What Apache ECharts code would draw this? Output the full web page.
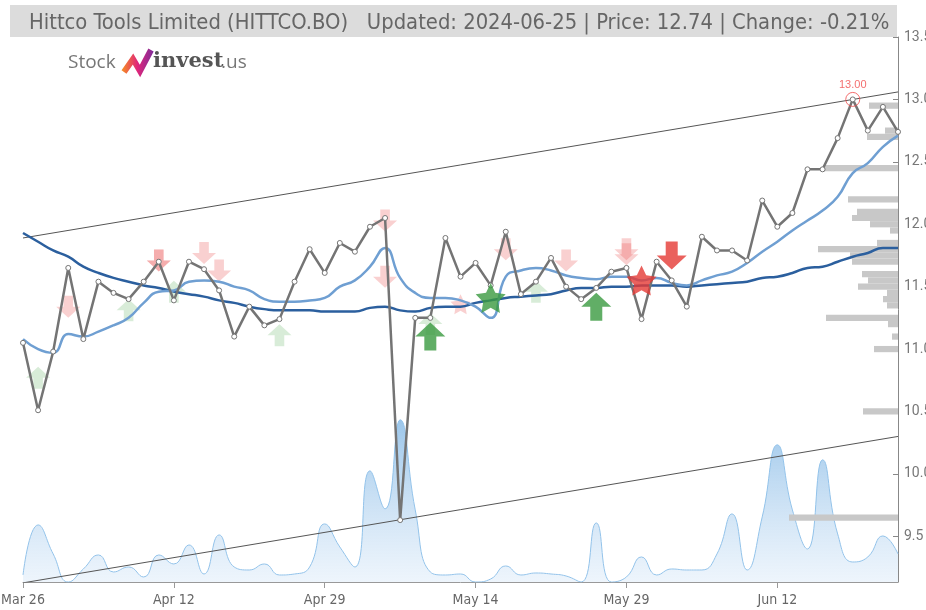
<!DOCTYPE html>
<html>
<head>
<meta charset="utf-8">
<script src="https://cdn.jsdelivr.net/npm/echarts@6/dist/echarts.min.js"></script>
<style>
  html, body { margin: 0; padding: 0; background: #fff; }
  #chart { width: 926px; height: 610px; }
</style>
</head>
<body>
<div id="chart"></div>
<script>
// trading days
const dates = ['Mar 26','Mar 27','Mar 28','Apr 1','Apr 2','Apr 3','Apr 4','Apr 5','Apr 8','Apr 10',
  'Apr 12','Apr 15','Apr 16','Apr 18','Apr 19','Apr 22','Apr 23','Apr 24','Apr 25','Apr 26',
  'Apr 29','Apr 30','May 2','May 3','May 6','May 7','May 8','May 9','May 10','May 13',
  'May 14','May 15','May 16','May 17','May 21','May 22','May 23','May 24','May 27','May 28',
  'May 29','May 30','May 31','Jun 3','Jun 4','Jun 5','Jun 6','Jun 7','Jun 10','Jun 11',
  'Jun 12','Jun 13','Jun 14','Jun 18','Jun 19','Jun 20','Jun 21','Jun 24','Jun 25'];

// close prices
const closes = [11.05, 10.51, 10.98, 11.65, 11.08, 11.54, 11.45, 11.40, 11.54, 11.70,
  11.39, 11.70, 11.64, 11.47, 11.10, 11.34, 11.19, 11.24, 11.54, 11.80,
  11.61, 11.85, 11.78, 11.98, 12.05, 9.63, 11.25, 11.25, 11.89, 11.58,
  11.69, 11.51, 11.94, 11.44, 11.54, 11.73, 11.50, 11.40, 11.49, 11.62,
  11.65, 11.24, 11.70, 11.55, 11.34, 11.90, 11.79, 11.79, 11.71, 12.19,
  11.98, 12.09, 12.44, 12.44, 12.69, 13.00, 12.75, 12.94, 12.74];

// short moving average (light blue)
const smaShort = [11.08, 11.00, 10.97, 11.12, 11.10, 11.14, 11.19, 11.25, 11.37, 11.46,
  11.47, 11.54, 11.55, 11.54, 11.50, 11.47, 11.40, 11.38, 11.38, 11.39,
  11.41, 11.50, 11.55, 11.66, 11.81, 11.57, 11.45, 11.41, 11.41, 11.39,
  11.34, 11.25, 11.58, 11.63, 11.65, 11.63, 11.59, 11.57, 11.56, 11.58,
  11.58, 11.55, 11.57, 11.53, 11.51, 11.55, 11.59, 11.62, 11.69, 11.78,
  11.86, 11.95, 12.03, 12.11, 12.22, 12.41, 12.49, 12.62, 12.71];

// long moving average (dark blue)
const smaLong = [11.93, 11.86, 11.79, 11.74, 11.66, 11.61, 11.57, 11.54, 11.51, 11.49,
  11.46, 11.44, 11.42, 11.39, 11.37, 11.34, 11.32, 11.31, 11.31, 11.31,
  11.30, 11.30, 11.30, 11.33, 11.34, 11.31, 11.30, 11.33, 11.34, 11.34,
  11.37, 11.39, 11.41, 11.42, 11.43, 11.44, 11.47, 11.49, 11.49, 11.50,
  11.50, 11.51, 11.51, 11.51, 11.50, 11.51, 11.52, 11.53, 11.54, 11.57,
  11.58, 11.61, 11.65, 11.66, 11.70, 11.74, 11.77, 11.81, 11.81];

// volume (hundreds of shares)
const volumes = [7, 57, 28, 0, 13, 27, 10, 15, 5, 27,
  18, 37, 8, 47, 15, 12, 18, 7, 8, 15,
  58, 35, 15, 111, 73, 162, 72, 10, 7, 8,
  0, 3, 16, 7, 9, 8, 6, 0, 59, 0,
  5, 25, 7, 13, 12, 12, 28, 68, 12, 65,
  137, 72, 33, 122, 48, 20, 25, 46, 28];

// trend channel: value at first and last day
const trendUpper = [11.89, 13.06];
const trendLower = [9.127, 10.30];

// volume by price
const profilePrices = [12.95, 12.75, 12.70, 12.45, 12.20, 12.10, 12.05, 12.00, 11.95, 11.85,
  11.80, 11.75, 11.70, 11.60, 11.55, 11.50, 11.45, 11.40, 11.35, 11.25,
  11.20, 11.10, 11.00, 10.50, 9.65];
const profileVols = [29, 13, 31, 75, 50, 41, 46, 28, 8, 21,
  80, 48, 46, 36, 30, 40, 11, 15, 11, 72,
  10, 6, 24, 35, 109];
const profileBin = 0.05;

// signals [day index, price]
const weakBuy = [[1, 10.77], [7, 11.31], [10, 11.46], [17, 11.11], [27, 11.20], [34, 11.46]];
const strongBuy = [[27, 11.10], [38, 11.34]];
const weakSell = [[3, 11.34], [9, 11.71], [9, 11.71], [12, 11.77], [13, 11.63], [24, 12.03],
  [24, 11.58], [32, 11.80], [36, 11.71], [40, 11.80], [40, 11.76]];
const strongSell = [[43, 11.75]];
const buyStars = [[31, 11.41]];
const sellStars = [[41, 11.55]];
const weakSellStars = [[29, 11.36]];

const yTicks = [9.5, 10.0, 10.5, 11.0, 11.5, 12.0, 12.5, 13.0, 13.5];

const narrow = '"Liberation Sans Narrow", "DejaVu Sans Condensed", sans-serif';
const upArrow = 'path://M15,0 L30,14 L21,14 L21,28 L9,28 L9,14 L0,14 Z';
const downArrow = 'path://M9,0 L21,0 L21,14 L30,14 L15,28 L0,14 L9,14 Z';
const star = 'path://M50,0 L64.7,29.8 L97.6,34.5 L73.8,57.7 L79.4,90.5 L50,75 L20.6,90.5 L26.2,57.7 L2.4,34.5 L35.3,29.8 Z';

const last = closes.length - 1;
let maxIdx = 0;
closes.forEach((v, i) => { if (v > closes[maxIdx]) maxIdx = i; });

const chart = echarts.init(document.getElementById('chart'));

const option = {
  animation: false,
  title: {
    text: 'Hittco Tools Limited (HITTCO.BO)   Updated: 2024-06-25 | Price: 12.74 | Change: -0.21%',
    left: 24,
    top: 7,
    textStyle: { fontFamily: narrow, fontSize: 21.8, fontWeight: 'normal', color: '#666' }
  },
  graphic: [
    { type: 'rect', z: -10, shape: { x: 10, y: 5, width: 887, height: 32 }, style: { fill: '#dcdcdc' } },
    { type: 'text', left: 68, top: 53, style: { text: 'Stock', font: '19px "Open Sans", sans-serif', fill: '#777' } },
    { type: 'polyline', shape: { points: [[124, 72], [133, 59], [140, 71], [151, 50]] },
      style: { stroke: new echarts.graphic.LinearGradient(0, 0, 1, 0, [
        { offset: 0, color: '#f7931e' }, { offset: 0.5, color: '#e0267a' }, { offset: 1, color: '#7b2c9a' }]),
        lineWidth: 6, fill: null, lineJoin: 'miter' } },
    { type: 'text', left: 153, top: 51, style: { text: 'invest', font: 'bold 21px "DejaVu Serif", serif', fill: '#555' } },
    { type: 'text', left: 221, top: 53, style: { text: '.us', font: '19px "Open Sans", sans-serif', fill: '#777' } }
  ],
  grid: { left: 23, right: 28, top: 37, bottom: 28, outerBoundsMode: 'none', containLabel: false },
  xAxis: [
    {
      type: 'category',
      data: dates,
      boundaryGap: false,
      axisLine: { lineStyle: { color: '#999' } },
      axisTick: { interval: 9, length: 6, lineStyle: { color: '#999' } },
      axisLabel: { interval: 9, color: '#666', fontSize: 14, fontFamily: narrow, margin: 11 },
      splitLine: { show: false }
    },
    { type: 'value', show: false, inverse: true, min: 0, max: 875 }
  ],
  yAxis: [
    {
      type: 'value',
      position: 'right',
      min: 9.134,
      max: 13.5,
      axisLine: { show: true, lineStyle: { color: '#888' } },
      axisTick: { show: true, inside: true, length: 5, customValues: yTicks, lineStyle: { color: '#888' } },
      axisLabel: { customValues: yTicks, color: '#777', fontSize: 14, fontFamily: 'Roboto, sans-serif', margin: 6,
        formatter: v => v.toFixed(1) },
      splitLine: { show: false }
    },
    { type: 'value', show: false, min: 0, max: Math.max(...volumes) * 3.36 }
  ],
  series: [
    {
      name: 'Volume', type: 'line', xAxisIndex: 0, yAxisIndex: 1, z: 1,
      data: volumes, smooth: 0.5, symbol: 'none',
      lineStyle: { color: '#93c3ea', width: 1 },
      areaStyle: { color: new echarts.graphic.LinearGradient(0, 0, 0, 1, [
        { offset: 0, color: 'rgba(98,165,222,0.9)' }, { offset: 1, color: 'rgba(214,231,248,0.6)' }]) }
    },
    {
      name: 'Profile', type: 'custom', xAxisIndex: 1, yAxisIndex: 0, z: 2,
      data: profilePrices.map((p, i) => [profileVols[i], p]),
      encode: { x: 0, y: 1 },
      renderItem: function (params, api) {
        const p0 = api.coord([0, api.value(1)]);
        const p1 = api.coord([api.value(0), api.value(1)]);
        const h = api.size([0, profileBin])[1];
        return {
          type: 'rect',
          shape: { x: p1[0], y: p0[1] - h / 2, width: p0[0] - p1[0], height: h },
          style: { fill: '#c8c8c8' }
        };
      }
    },
    {
      name: 'Upper trend', type: 'line', z: 3, symbol: 'none',
      data: [[0, trendUpper[0]], [last, trendUpper[1]]],
      lineStyle: { color: '#555', width: 1 }
    },
    {
      name: 'Lower trend', type: 'line', z: 3, symbol: 'none',
      data: [[0, trendLower[0]], [last, trendLower[1]]],
      lineStyle: { color: '#555', width: 1 }
    },
    {
      name: 'Weak buy', type: 'scatter', z: 4, symbol: upArrow, symbolSize: [24, 22],
      data: weakBuy, itemStyle: { color: 'rgba(60,160,60,0.25)' }
    },
    {
      name: 'Weak sell', type: 'scatter', z: 4, symbol: downArrow, symbolSize: [24, 22],
      data: weakSell, itemStyle: { color: 'rgba(232,60,60,0.3)' }
    },
    {
      name: 'Weak sell star', type: 'scatter', z: 4, symbol: star, symbolSize: 20,
      data: weakSellStars, itemStyle: { color: 'rgba(232,60,60,0.3)' }
    },
    {
      name: 'Long MA', type: 'line', z: 5, data: smaLong, smooth: true, symbol: 'none',
      lineStyle: { color: '#2b5f9e', width: 2.5 }
    },
    {
      name: 'Short MA', type: 'line', z: 6, data: smaShort, smooth: true, symbol: 'none',
      lineStyle: { color: '#6f9fd2', width: 2.5 }
    },
    {
      name: 'Close', type: 'line', z: 7, data: closes,
      symbol: 'circle', symbolSize: 5,
      lineStyle: { color: '#747474', width: 2.5 },
      itemStyle: { color: '#fff', borderColor: '#747474', borderWidth: 1 }
    },
    {
      name: 'Strong buy', type: 'scatter', z: 8, symbol: upArrow, symbolSize: [30, 28],
      data: strongBuy, itemStyle: { color: '#3a9a40' }
    },
    {
      name: 'Strong sell', type: 'scatter', z: 8, symbol: downArrow, symbolSize: [30, 28],
      data: strongSell, itemStyle: { color: '#e53935' }
    },
    {
      name: 'Buy star', type: 'scatter', z: 8, symbol: star, symbolSize: 30,
      data: buyStars, itemStyle: { color: '#3a9a40' }
    },
    {
      name: 'Sell star', type: 'scatter', z: 8, symbol: star, symbolSize: 30,
      data: sellStars, itemStyle: { color: '#e53935' }
    },
    {
      name: 'Max', type: 'scatter', z: 9, symbol: 'circle', symbolSize: 14,
      data: [[maxIdx, closes[maxIdx]]],
      itemStyle: { color: 'rgba(0,0,0,0)', borderColor: '#f04a4a', borderWidth: 1 },
      label: { show: true, position: 'top', distance: 1, color: '#f04a4a', fontSize: 11,
        formatter: p => p.value[1].toFixed(2) }
    }
  ]
};

chart.setOption(option);
</script>
</body>
</html>
